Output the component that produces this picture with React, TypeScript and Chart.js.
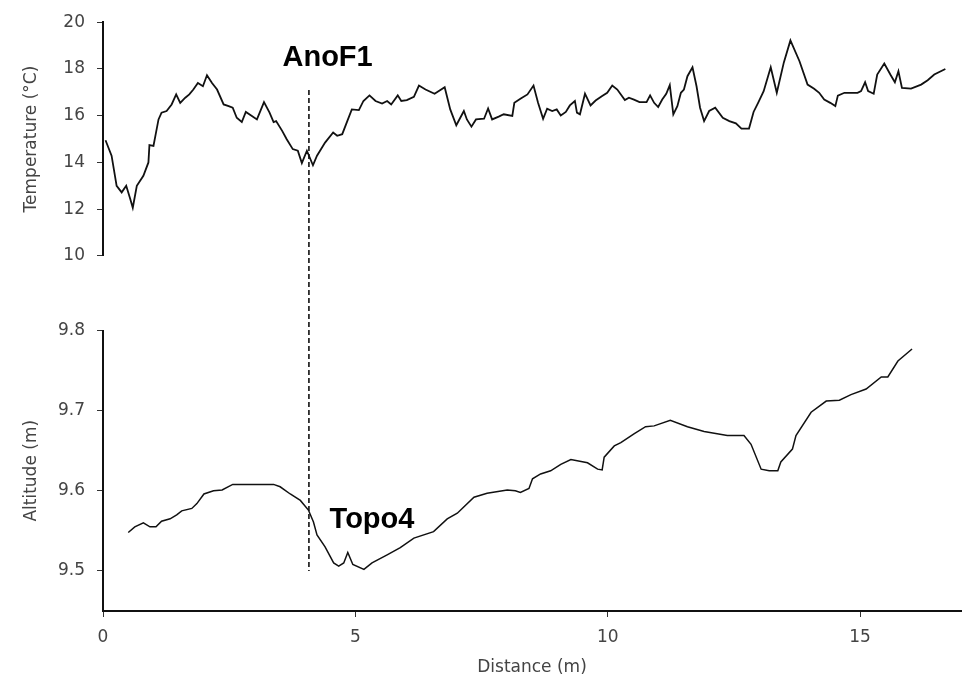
import React, { useEffect, useRef } from "react";
import { Chart, registerables } from "chart.js";

Chart.register(...registerables);

// Temperature profile (°C) versus distance (m)
const tempDist = [
  0.05, 0.17, 0.27, 0.37, 0.46, 0.54, 0.59, 0.67, 0.8, 0.9, 0.92, 1.0, 1.1, 1.16, 1.26, 1.36, 1.45, 1.53, 1.63, 1.71,
  1.79, 1.88, 1.98, 2.06, 2.16, 2.26, 2.39, 2.49, 2.57, 2.65, 2.75, 2.83, 2.95, 3.05, 3.19, 3.3, 3.38, 3.43, 3.55, 3.64,
  3.76, 3.86, 3.94, 4.04, 4.16, 4.24, 4.4, 4.56, 4.64, 4.74, 4.84, 4.93, 5.07, 5.16, 5.28, 5.4, 5.53, 5.63, 5.71, 5.84,
  5.91, 6.02, 6.16, 6.26, 6.39, 6.57, 6.77, 6.88, 7.0, 7.15, 7.21, 7.3, 7.39, 7.55, 7.63, 7.71, 7.84, 7.94, 8.11, 8.15,
  8.27, 8.41, 8.53, 8.62, 8.72, 8.8, 8.9, 8.99, 9.07, 9.17, 9.25, 9.35, 9.39, 9.45, 9.55, 9.66, 9.76, 9.89, 9.99, 10.09,
  10.19, 10.34, 10.42, 10.52, 10.63, 10.77, 10.84, 10.92, 11.0, 11.08, 11.16, 11.23, 11.3, 11.38, 11.45, 11.51, 11.58,
  11.68, 11.76, 11.83, 11.91, 12.01, 12.13, 12.28, 12.41, 12.54, 12.65, 12.8, 12.89, 12.98, 13.09, 13.23, 13.35, 13.49,
  13.62, 13.8, 13.96, 14.09, 14.19, 14.29, 14.41, 14.51, 14.56, 14.69, 14.95, 15.02, 15.1, 15.16, 15.27, 15.34, 15.48,
  15.6, 15.69, 15.76, 15.83, 16.01, 16.21, 16.34, 16.47, 16.69,
];
const tempVals = [
  14.95, 14.29, 13.0, 12.72, 13.0, 12.44, 12.06, 13.0, 13.43, 14.0, 14.74, 14.71, 15.84, 16.13, 16.2, 16.48, 16.91, 16.55,
  16.77, 16.91, 17.12, 17.4, 17.26, 17.73, 17.4, 17.12, 16.48, 16.41, 16.34, 15.91, 15.73, 16.16, 15.99, 15.84, 16.58,
  16.13, 15.73, 15.77, 15.35, 14.99, 14.57, 14.5, 13.97, 14.5, 13.88, 14.29, 14.85, 15.28, 15.14, 15.21, 15.77, 16.27,
  16.24, 16.63, 16.87, 16.63, 16.52, 16.63, 16.48, 16.87, 16.63, 16.67, 16.81, 17.29, 17.12, 16.94, 17.22, 16.27, 15.59,
  16.2, 15.84, 15.53, 15.84, 15.87, 16.31, 15.84, 15.96, 16.06, 15.99, 16.55, 16.72, 16.91, 17.29, 16.55, 15.87, 16.3,
  16.2, 16.27, 16.01, 16.16, 16.44, 16.63, 16.13, 16.06, 16.94, 16.44, 16.65, 16.84, 16.98, 17.29, 17.12, 16.67, 16.77,
  16.69, 16.58, 16.58, 16.87, 16.55, 16.37, 16.69, 16.94, 17.31, 16.06, 16.41, 16.98, 17.12, 17.69, 18.07, 17.26, 16.34,
  15.77, 16.2, 16.34, 15.91, 15.77, 15.67, 15.45, 15.45, 16.16, 16.55, 17.05, 18.07, 16.98, 18.28, 19.22, 18.33, 17.33,
  17.15, 16.98, 16.69, 16.55, 16.41, 16.86, 16.98, 16.98, 17.05, 17.43, 17.05, 16.94, 17.76, 18.23, 17.76, 17.43, 17.9,
  17.19, 17.16, 17.33, 17.52, 17.76, 18.0,
];

// Altitude profile (m) versus distance (m)
const altDist = [
  0.5, 0.63, 0.8, 0.93, 1.05, 1.16, 1.33, 1.46, 1.56, 1.76, 1.86, 2.0, 2.19, 2.36, 2.57, 2.98, 3.38, 3.51, 3.71, 3.91,
  4.07, 4.17, 4.24, 4.4, 4.57, 4.67, 4.77, 4.85, 4.95, 5.17, 5.33, 5.63, 5.89, 6.16, 6.55, 6.82, 7.02, 7.35, 7.61, 8.01,
  8.17, 8.27, 8.44, 8.51, 8.67, 8.87, 9.07, 9.27, 9.6, 9.8, 9.89, 9.93, 10.13, 10.26, 10.52, 10.75, 10.92, 11.24, 11.58,
  11.91, 12.37, 12.7, 12.84, 13.04, 13.2, 13.37, 13.43, 13.66, 13.73, 14.03, 14.33, 14.59, 14.82, 15.12, 15.42, 15.55,
  15.75, 16.03,
];
const altVals = [
  9.548, 9.555, 9.56, 9.555, 9.555, 9.562, 9.565, 9.57, 9.575, 9.578, 9.584, 9.596, 9.6, 9.601, 9.608, 9.608, 9.608,
  9.605, 9.596, 9.588, 9.576, 9.561, 9.545, 9.53, 9.51, 9.506, 9.51, 9.523, 9.508, 9.502, 9.51, 9.52, 9.529, 9.541,
  9.549, 9.565, 9.572, 9.592, 9.597, 9.601, 9.6, 9.598, 9.603, 9.615, 9.621, 9.625, 9.633, 9.639, 9.635, 9.627, 9.626,
  9.642, 9.656, 9.66, 9.671, 9.68, 9.681, 9.688, 9.68, 9.674, 9.669, 9.669, 9.658, 9.627, 9.625, 9.625, 9.636, 9.652,
  9.669, 9.698, 9.712, 9.713, 9.72, 9.727, 9.742, 9.742, 9.762, 9.777,
];

const xTicks = [0, 5, 10, 15];
const tempTicks = [10, 12, 14, 16, 18, 20];
const altTicks = [9.5, 9.6, 9.7, 9.8];

// Vertical marker (distance, temperature at top end, altitude at bottom end)
const markerX = 4.08;
const markerTopTemp = 17.1;
const markerBottomAlt = 9.5;

// Labels: text, distance, value, axis
const labelTexts = ["AnoF1", "Topo4"];
const labelDist = [4.45, 5.33];
const labelVals = [18.13, 9.553];
const labelAxes = ["yT", "yA"];

const FONT = "'DejaVu Sans', sans-serif";
const tickFont = { family: FONT, size: 17 };
const TICK_COLOR = "#444";

const overlayPlugin = {
  id: "overlay",
  afterDatasetsDraw(chart: any) {
    const { ctx, scales } = chart;
    const px = scales.x.getPixelForValue(markerX);
    const y0 = scales.yT.getPixelForValue(markerTopTemp);
    const y1 = scales.yA.getPixelForValue(markerBottomAlt);
    ctx.save();
    ctx.strokeStyle = "#111";
    ctx.lineWidth = 1.6;
    ctx.setLineDash([5, 3]);
    ctx.beginPath();
    ctx.moveTo(px, y0);
    ctx.lineTo(px, y1);
    ctx.stroke();
    ctx.setLineDash([]);
    ctx.fillStyle = "#000";
    ctx.font = "bold 29px 'Liberation Sans', Arial, sans-serif";
    ctx.textAlign = "center";
    ctx.textBaseline = "alphabetic";
    labelTexts.forEach((t, i) => {
      const lx = scales.x.getPixelForValue(labelDist[i]);
      const ly = scales[labelAxes[i]].getPixelForValue(labelVals[i]);
      ctx.fillText(t, lx, ly);
    });
    ctx.restore();
  },
};

function yAxis(opts: any) {
  return {
    type: "linear",
    position: "left",
    stack: "v",
    afterFit: (s: any) => {
      s.width = 103;
    },
    ...opts,
  };
}

export default function App() {
  const canvasRef = useRef<HTMLCanvasElement | null>(null);

  useEffect(() => {
    if (!canvasRef.current) return;
    Chart.defaults.font.family = FONT;
    const tempData = tempDist.map((x, i) => ({ x, y: tempVals[i] }));
    const altData = altDist.map((x, i) => ({ x, y: altVals[i] }));

    const chart = new Chart(canvasRef.current, {
      type: "line",
      data: {
        datasets: [
          {
            label: "Temperature",
            data: tempData,
            yAxisID: "yT",
            borderColor: "#111",
            borderWidth: 1.8,
            pointRadius: 0,
            tension: 0,
            fill: false,
          },
          {
            label: "Altitude",
            data: altData,
            yAxisID: "yA",
            borderColor: "#111",
            borderWidth: 1.5,
            pointRadius: 0,
            tension: 0,
            fill: false,
          },
        ],
      },
      options: {
        responsive: false,
        animation: false,
        layout: { padding: { top: 19, right: 7, bottom: 0, left: 0 } },
        plugins: { legend: { display: false }, tooltip: { enabled: false } },
        scales: {
          x: {
            type: "linear",
            position: "bottom",
            min: 0,
            max: 17,
            afterBuildTicks: (s: any) => {
              s.ticks = xTicks.map((v) => ({ value: v }));
            },
            afterFit: (s: any) => {
              s.height = 69;
            },
            border: { display: true, color: "#111", width: 2 },
            grid: { drawOnChartArea: false, drawTicks: true, tickLength: 6, color: "#333" },
            ticks: { font: tickFont, color: TICK_COLOR, padding: 10, maxRotation: 0 },
            title: {
              display: true,
              text: "Distance (m)",
              font: tickFont,
              color: TICK_COLOR,
              padding: { top: 0, bottom: 2 },
            },
          },
          yA: yAxis({
            stackWeight: 282,
            weight: 1,
            min: 9.45,
            max: 9.8,
            afterBuildTicks: (s: any) => {
              s.ticks = altTicks.map((v) => ({ value: v }));
            },
            border: { display: true, color: "#111", width: 2 },
            grid: { drawOnChartArea: false, drawTicks: true, tickLength: 6, color: "#333" },
            ticks: {
              font: tickFont,
              color: TICK_COLOR,
              padding: 12,
              callback: (v: any) => Number(v).toFixed(1),
            },
            title: {
              display: true,
              text: "Altitude (m)",
              font: tickFont,
              color: TICK_COLOR,
              padding: { top: 21, bottom: 0 },
            },
          }),
          yGap: yAxis({
            stackWeight: 75,
            weight: 2,
            min: 0,
            max: 1,
            border: { display: false },
            grid: { display: false },
            ticks: { display: false },
            title: { display: false },
          }),
          yT: yAxis({
            stackWeight: 235,
            weight: 3,
            min: 10,
            max: 20,
            afterBuildTicks: (s: any) => {
              s.ticks = tempTicks.map((v) => ({ value: v }));
            },
            border: { display: true, color: "#111", width: 2 },
            grid: { drawOnChartArea: false, drawTicks: true, tickLength: 6, color: "#333" },
            ticks: { font: tickFont, color: TICK_COLOR, padding: 12 },
            title: {
              display: true,
              text: "Temperature (°C)",
              font: tickFont,
              color: TICK_COLOR,
              padding: { top: 21, bottom: 0 },
            },
          }),
        },
      } as any,
      plugins: [overlayPlugin],
    });
    return () => chart.destroy();
  }, []);

  return (
    <div style={{ position: "absolute", left: 0, top: 0, width: 968, height: 680, background: "#fff" }}>
      <canvas ref={canvasRef} width={968} height={680} style={{ display: "block" }} />
    </div>
  );
}
